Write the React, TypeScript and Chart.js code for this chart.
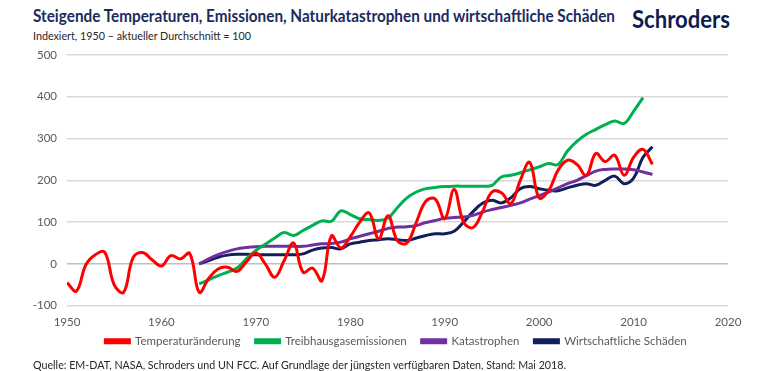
import React, { useEffect, useLayoutEffect, useRef } from 'react';
import { Chart, registerables } from 'chart.js';

Chart.register(...registerables);

const TEMP_START = 1950;
const OTHER_START = 1964;

const temperatureValues = [
  -45, -65, -2, 22, 28, -50, -68, 15, 27, 10,
  -5, 20, 12, 25, -68, -35, -12, -8, -18, 5,
  26, 0, -32, 8, 50, -20, -10, -40, 67, 38,
  65, 100, 122, 60, 115, 55, 50, 100, 150, 155,
  108, 178, 100, 87, 125, 172, 170, 144, 200, 243,
  158, 175, 224, 248, 238, 212, 264, 245, 260, 212,
  255, 274, 238,
];

const emissionValues = [
  -48, -38, -28, -20, -10, 12, 32, 47, 62, 75,
  68, 80, 92, 103, 102, 127, 118, 108, 106, 104,
  110, 135, 158, 172, 180, 183, 185, 186, 186, 186,
  186, 188, 208, 212, 218, 225, 232, 240, 238, 270,
  293, 310, 322, 333, 342, 336, 365, 398,
];

const disasterValues = [
  0, 12, 22, 30, 36, 39, 41, 42, 42, 42,
  42, 42, 45, 48, 49, 52, 60, 66, 72, 78,
  85, 88, 89, 92, 99, 104, 109, 111, 112, 116,
  124, 130, 135, 140, 146, 155, 163, 172, 182, 192,
  200, 211, 222, 226, 227, 227, 225, 220, 214,
];

const damageValues = [
  0, 8, 16, 21, 23, 23, 22, 22, 22, 22,
  22, 24, 33, 38, 39, 36, 48, 52, 56, 58,
  60, 58, 56, 62, 68, 72, 72, 78, 100, 125,
  145, 152, 146, 158, 180, 185, 180, 176, 175, 182,
  188, 192, 188, 200, 210, 192, 205, 255, 280,
];

const seriesLabels = ['Temperaturänderung', 'Treibhausgasemissionen', 'Katastrophen', 'Wirtschaftliche Schäden'];
const seriesColors = ['#ff0000', '#00b050', '#7030a0', '#111f5c'];

const X_MIN = 1950;
const X_MAX = 2020;
const Y_MIN = -100;
const Y_MAX = 500;

const TITLE = 'Steigende Temperaturen, Emissionen, Naturkatastrophen und wirtschaftliche Schäden';
const SUBTITLE = 'Indexiert, 1950 – aktueller Durchschnitt = 100';
const SOURCE = 'Quelle: EM-DAT, NASA, Schroders und UN FCC. Auf Grundlage der jüngsten verfügbaren Daten, Stand: Mai 2018.';

const FONT = "Lato, 'Liberation Sans', sans-serif";

function toPoints(values: number[], start: number) {
  return values.map((v, i) => ({ x: start + i, y: v }));
}

const legendShift = {
  id: 'legendShift',
  afterLayout(chart: any) {
    const lg = chart.legend;
    if (lg) {
      lg.left += 32;
      lg.right += 32;
      lg.top -= 11;
      lg.bottom -= 11;
    }
  },
};

function FitText(props: { text: string; left: number; top: number; width: number; size: number; weight?: number; color: string }) {
  const ref = useRef<HTMLSpanElement | null>(null);
  useLayoutEffect(() => {
    const el = ref.current;
    if (!el) return;
    el.style.transform = 'none';
    const w = el.getBoundingClientRect().width;
    if (w > 0) el.style.transform = `scaleX(${props.width / w})`;
  }, [props.text, props.width]);
  return (
    <span
      ref={ref}
      style={{
        position: 'absolute',
        left: props.left,
        top: props.top,
        fontSize: props.size,
        fontWeight: props.weight || 400,
        color: props.color,
        whiteSpace: 'nowrap',
        transformOrigin: 'left top',
        display: 'inline-block',
        lineHeight: 1.2,
      }}
    >
      {props.text}
    </span>
  );
}

export default function App() {
  const canvasRef = useRef<HTMLCanvasElement | null>(null);

  useEffect(() => {
    if (!canvasRef.current) return;
    const allSeries = [
      toPoints(temperatureValues, TEMP_START),
      toPoints(emissionValues, OTHER_START),
      toPoints(disasterValues, OTHER_START),
      toPoints(damageValues, OTHER_START),
    ];
    const chart = new Chart(canvasRef.current, {
      type: 'line',
      data: {
        datasets: allSeries.map((d, i) => ({
          label: seriesLabels[i],
          data: d,
          borderColor: seriesColors[i],
          backgroundColor: seriesColors[i],
          borderWidth: 3,
          pointRadius: 0,
          tension: 0.4,
          fill: false,
        })),
      },
      plugins: [legendShift],
      options: {
        animation: false,
        responsive: true,
        maintainAspectRatio: false,
        layout: { padding: { top: 3, right: 42, left: 0, bottom: 0 } },
        plugins: {
          title: { display: false },
          tooltip: { enabled: false },
          legend: {
            position: 'bottom',
            labels: {
              boxWidth: 24,
              boxHeight: 3,
              padding: 15,
              color: '#595959',
              font: { family: FONT, size: 11.5 },
            },
          },
        },
        scales: {
          x: {
            type: 'linear',
            min: X_MIN,
            max: X_MAX,
            grid: { display: false },
            border: { display: false },
            ticks: {
              stepSize: 10,
              color: '#595959',
              font: { family: FONT, size: 11.5 },
              padding: 2,
              maxRotation: 0,
              callback: (v: any) => String(v),
            },
          },
          y: {
            min: Y_MIN,
            max: Y_MAX,
            border: { display: false },
            grid: {
              drawTicks: false,
              color: (ctx: any) => (ctx.tick && ctx.tick.value === 0 ? '#bfbfbf' : '#d9d9d9'),
              lineWidth: 1.5,
            },
            ticks: {
              stepSize: 100,
              color: '#595959',
              font: { family: FONT, size: 11.5 },
              padding: 10,
            },
            afterFit: (scale: any) => {
              scale.width = 67;
            },
          },
        },
      },
    });
    return () => chart.destroy();
  }, []);

  return (
    <div style={{ position: 'absolute', left: 0, top: 0, width: 770, height: 371, background: '#fff', fontFamily: FONT, overflow: 'hidden' }}>
      <FitText text={TITLE} left={33} top={7} width={582} size={16.5} weight={700} color="#1c2a5e" />
      <FitText text="Schroders" left={632} top={5} width={98} size={24} weight={700} color="#0e1d50" />
      <FitText text={SUBTITLE} left={33} top={29} width={218} size={12} color="#262626" />
      <div style={{ position: 'absolute', left: 0, top: 38, width: 770, height: 330 }}>
        <canvas ref={canvasRef} />
      </div>
      <FitText text={SOURCE} left={33} top={358} width={533} size={12} color="#262626" />
    </div>
  );
}
